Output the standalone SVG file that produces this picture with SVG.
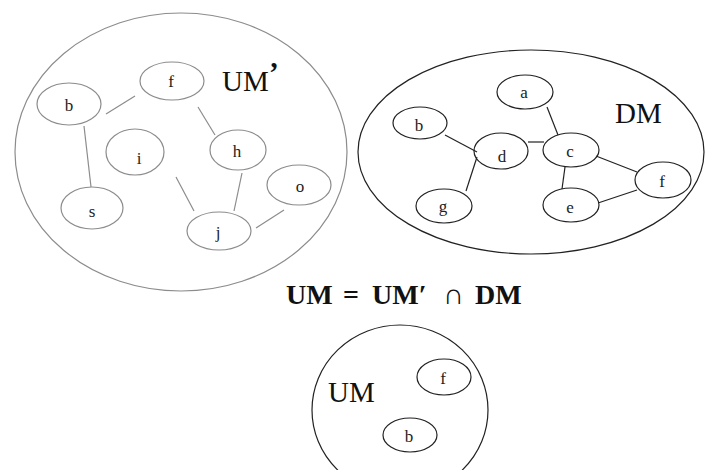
<svg xmlns="http://www.w3.org/2000/svg" width="707" height="470" viewBox="0 0 707 470">
<style>
.lt{fill:none;stroke:#8c8c8c;stroke-width:1.2}
.dk{fill:none;stroke:#222;stroke-width:1.2}
.lbl{font-family:"Liberation Serif","DejaVu Serif",serif;font-size:17px;fill:#222;text-anchor:middle}
.big{font-family:"Liberation Serif","DejaVu Serif",serif;font-size:29px;fill:#111}
.eq{font-family:"Liberation Serif","DejaVu Serif",serif;font-size:28px;font-weight:bold;fill:#111}
</style>
<rect width="707" height="470" fill="#fff"/>
<g id="umprime">
<ellipse class="lt" cx="181" cy="152" rx="166" ry="139"/>
<text class="big" x="222" y="91">UM</text>
<text class="big" x="269" y="82" font-size="24" font-weight="bold">’</text>
</g>
<g id="dm">
<ellipse class="dk" cx="531" cy="152" rx="173" ry="102"/>
<text class="big" x="615" y="123">DM</text>
</g>
<g id="um">
<ellipse class="dk" cx="400" cy="410" rx="88" ry="85"/>
<text class="big" x="328" y="402">UM</text>
</g>
<g id="formula">
<text class="eq" x="286" y="304">UM</text>
<text class="eq" x="343" y="304">=</text>
<text class="eq" x="372" y="304">UM′</text>
<text class="big" x="443" y="304" font-size="26">∩</text>
<text class="eq" x="475" y="304">DM</text>
</g>
<g id="connectors">
<line class="lt" x1="106" y1="114" x2="135" y2="96"/>
<line class="lt" x1="84" y1="126" x2="91" y2="187"/>
<line class="lt" x1="198" y1="107" x2="215" y2="135"/>
<line class="lt" x1="176" y1="177" x2="194" y2="211"/>
<line class="lt" x1="242" y1="173" x2="234" y2="211"/>
<line class="lt" x1="256" y1="228" x2="284" y2="210"/>
<line class="dk" x1="547" y1="107" x2="558" y2="135"/>
<line class="dk" x1="445" y1="135" x2="477" y2="152"/>
<line class="dk" x1="528" y1="142" x2="544" y2="142"/>
<line class="dk" x1="477" y1="157" x2="466" y2="191"/>
<line class="dk" x1="565" y1="167" x2="562" y2="189"/>
<line class="dk" x1="596" y1="156" x2="637" y2="172"/>
<line class="dk" x1="598" y1="203" x2="637" y2="190"/>
</g>
<g id="up-b"><ellipse class="lt" cx="69" cy="104" rx="32" ry="21"/><text class="lbl" x="69" y="111">b</text></g>
<g id="up-f"><ellipse class="lt" cx="172" cy="81" rx="32" ry="19"/><text class="lbl" x="171" y="87">f</text></g>
<g id="up-i"><ellipse class="lt" cx="135" cy="152" rx="29" ry="23"/><text class="lbl" x="139" y="164">i</text></g>
<g id="up-h"><ellipse class="lt" cx="238" cy="150" rx="28" ry="20"/><text class="lbl" x="237" y="157">h</text></g>
<g id="up-o"><ellipse class="lt" cx="299" cy="185" rx="32" ry="20"/><text class="lbl" x="300" y="192">o</text></g>
<g id="up-s"><ellipse class="lt" cx="92" cy="208" rx="31" ry="21"/><text class="lbl" x="92" y="217">s</text></g>
<g id="up-j"><ellipse class="lt" cx="219" cy="231" rx="32" ry="19"/><text class="lbl" x="218" y="238">j</text></g>
<g id="dm-a"><ellipse class="dk" cx="525" cy="92" rx="28" ry="17"/><text class="lbl" x="524" y="98">a</text></g>
<g id="dm-b"><ellipse class="dk" cx="420" cy="123" rx="27" ry="16"/><text class="lbl" x="419" y="131">b</text></g>
<g id="dm-d"><ellipse class="dk" cx="501" cy="151" rx="27" ry="18"/><text class="lbl" x="502" y="162" font-size="14">d</text></g>
<g id="dm-c"><ellipse class="dk" cx="571" cy="150" rx="28" ry="17"/><text class="lbl" x="570" y="157">c</text></g>
<g id="dm-f"><ellipse class="dk" cx="663" cy="180" rx="28" ry="18"/><text class="lbl" x="662" y="187">f</text></g>
<g id="dm-e"><ellipse class="dk" cx="571" cy="205" rx="28" ry="17"/><text class="lbl" x="570" y="213">e</text></g>
<g id="dm-g"><ellipse class="dk" cx="444" cy="206" rx="28" ry="17"/><text class="lbl" x="443" y="212">g</text></g>
<g id="um-f"><ellipse class="dk" cx="444" cy="377" rx="27" ry="18"/><text class="lbl" x="443" y="384">f</text></g>
<g id="um-b"><ellipse class="dk" cx="410" cy="435" rx="27" ry="17"/><text class="lbl" x="409" y="442">b</text></g>
</svg>
